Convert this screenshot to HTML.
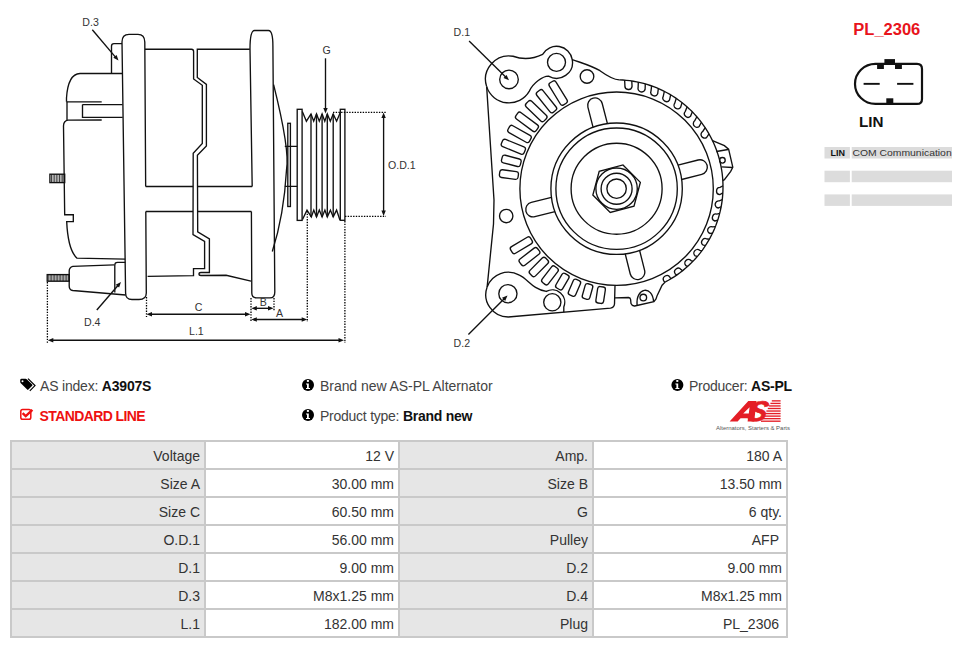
<!DOCTYPE html>
<html><head><meta charset="utf-8">
<style>
*{margin:0;padding:0;box-sizing:border-box}
html,body{width:976px;height:648px;overflow:hidden;background:#fff;font-family:"Liberation Sans",sans-serif;position:relative}
.abs{position:absolute;white-space:nowrap}
#tbl{position:absolute;left:10px;top:440px;width:778px;height:198px;background:#c9c9c9}
.c{position:absolute;width:192px;height:26px;text-align:right;padding-right:4px;font-size:14px;line-height:29px;color:#333}
.g{background:#e6e6e6}
.w{background:#fff}
.info{font-size:14px;color:#444;line-height:18px}
.info b{color:#111}
svg{position:absolute;left:0;top:0}
</style></head><body>

<svg id="draw" width="976" height="360" viewBox="0 0 976 360" fill="none" stroke="#111" stroke-width="1.35">
<g id="left"><path d="M145.66 186.5 L144.8 42 Q144.6 34.4 138 34.4 L129 34.4 Q122 34.4 122 42 L125.6 293 Q125.6 299.5 132 299.5 L139 299.5 Q146.3 299.5 146.3 293 L145.8 211.5"/>
<path d="M111.5 73.5 L111.5 46 Q111.5 43.6 114 43.6 L122 43.6"/>
<path d="M122 73.5 L80 73.5 Q68 74 66.5 98 L66.5 101.8"/>
<path d="M66.5 101.8 L101.7 101.8 M82.5 104.6 L122.5 104.6 M82.5 104.6 L82.5 117.4 L122.7 117.4 "/>
<path d="M67 101.8 V120"/><path d="M101.7 120 L68 120.2 Q63.5 121 63.5 126 L64.7 214.7 L73.3 214.7 L73.3 221.6 L66.7 221.6 Q68 250 77 258.2 L125.2 259.2"/>
<rect x="49.9" y="174.2" width="14.8" height="8.4"/>
<path stroke-width="0.8" d="M51.5 174.2 V182.6 M53.1 174.2 V182.6 M54.7 174.2 V182.6 M56.3 174.2 V182.6 M57.9 174.2 V182.6 M59.5 174.2 V182.6 M61.1 174.2 V182.6 M62.7 174.2 V182.6 M64.3 174.2 V182.6 "/>
<path d="M114.8 292.5 L114.8 265 Q114.8 262.3 117.5 262.3 L125.4 262.3"/>
<path d="M114.3 264.9 L72.8 266.4 Q69.2 267.5 69.2 271 L69.2 286 Q69.2 290 72.8 290.5 L125.6 295"/>
<rect x="47.2" y="274.6" width="22" height="6.6"/>
<path stroke-width="0.8" d="M48.7 274.6 V281.2 M50.2 274.6 V281.2 M51.7 274.6 V281.2 M53.2 274.6 V281.2 M54.7 274.6 V281.2 M56.2 274.6 V281.2 M57.7 274.6 V281.2 M59.2 274.6 V281.2 M60.7 274.6 V281.2 M62.2 274.6 V281.2 M63.7 274.6 V281.2 M65.2 274.6 V281.2 M66.7 274.6 V281.2 M68.2 274.6 V281.2 "/>
<path d="M145 49.2 L191.5 49.2 Q193.6 49.2 193.6 51.5 L193.6 79 L202.3 85.3 L202.3 143.5 L193.2 153.3 L193 234.6 L204.6 241.5 L204.6 268.6 L193.5 268.6 L193.5 275.6 L147.6 276.3"/><path d="M249.8 49.2 L197.3 49.2 L197.3 77.5 L206.4 84.4 L206.4 146 L197.4 155.3 L197.7 231.8 L209.4 238.8 L209.4 272.5 L201 272.5 Q199 272.5 199 274 Q199 275.5 201 275.5 L226.1 275.3 L251 281.1"/><path d="M145.66 186.5 H193.2 M197.4 186.5 H252.2 M145.8 211.5 H193 M197.6 211.5 H251.4"/>



<path d="M252.2 186.5 L250 49 C250 38 250.8 30.5 254.5 30.5 L268.5 30.5 C271.5 30.5 272.9 36 272.9 46 L274.8 292 Q274.8 297.9 270 297.9 L256.5 297.9 Q251.8 297.9 251.8 293 L251.4 211.5"/>
<path d="M273.6 84.6 Q290 150 286.5 170 Q284 215 272.3 251.5"/>
<rect x="287.8" y="123.3" width="2.6" height="83.2"/>
<path d="M284.8 146.3 L297.2 146.3 M284.8 186.3 L297.2 186.3"/>
<rect x="297.2" y="109.3" width="4.9" height="111.1"/>
<rect x="340.3" y="109.3" width="4.6" height="111"/>
<path d="M302.3 111.4 L306.4 121.2 L311 113.9 L313.7 121.2 L316.5 113.9 L319.3 121.2 L322.1 113.9 L324.8 121.2 L327.3 113.9 L330.3 121.2 L333.2 113.9 L336.6 121.2 L340.3 112.5"/><path d="M302.5 219.5 L307 210.1 L311.3 216.9 L313.8 210.1 L316.5 216.9 L319.3 210.1 L322.1 216.9 L324.9 210.1 L327.3 216.9 L330.4 210.1 L333.2 216.9 L336.6 210.1 L339.9 220"/><path d="M311 113.9 V216.9 M316.5 113.9 V216.9 M322.1 113.9 V216.9 M327.3 113.9 V216.9 M333.2 113.9 V216.9"/><path stroke-dasharray="1.4 1.3" stroke-width="1.3" stroke="#000" d="M307.3 211 V322 M344.9 221 V343 M146.5 297 V317 M251 298 V322 M274 298 V311 M47.4 282 V343 M333 112.3 H386 M345 216.3 H386"/><path d="M149.5 314.2 H247.5"/><path fill="#111" stroke="none" d="M146.5 314.2 L152.0 312.0 L152.0 316.4 Z"/><path fill="#111" stroke="none" d="M250.5 314.2 L245.0 316.4 L245.0 312.0 Z"/><path d="M254.3 308.3 H270.5"/><path fill="#111" stroke="none" d="M251.3 308.3 L256.8 306.1 L256.8 310.5 Z"/><path fill="#111" stroke="none" d="M273.5 308.3 L268.0 310.5 L268.0 306.1 Z"/><path d="M254.3 319.5 H304.2"/><path fill="#111" stroke="none" d="M251.3 319.5 L256.8 317.3 L256.8 321.7 Z"/><path fill="#111" stroke="none" d="M307.2 319.5 L301.7 321.7 L301.7 317.3 Z"/><path d="M50.8 340.2 H341.0"/><path fill="#111" stroke="none" d="M47.8 340.2 L53.3 338.0 L53.3 342.4 Z"/><path fill="#111" stroke="none" d="M344.0 340.2 L338.5 342.4 L338.5 338.0 Z"/><path d="M383.6 115.6 V213.0"/><path fill="#111" stroke="none" d="M383.6 112.6 L385.8 118.1 L381.4 118.1 Z"/><path fill="#111" stroke="none" d="M383.6 216.0 L381.4 210.5 L385.8 210.5 Z"/><path d="M92.3 29.8 L115.9 57.6"/><path fill="#111" stroke="none" d="M118.5 60.6 L113.3 57.8 L116.6 55.0 Z"/><path d="M325.5 58.3 L325.5 109.6"/><path fill="#111" stroke="none" d="M325.5 113.6 L323.3 108.1 L327.7 108.1 Z"/><path d="M96.8 310 L118.4 285.0"/><path fill="#111" stroke="none" d="M121.0 282.0 L119.1 287.6 L115.7 284.7 Z"/><g fill="#333" stroke="none" font-family="Liberation Sans" font-size="10.6"><text x="82.3" y="26.2">D.3</text><text x="322.5" y="54">G</text><text x="388" y="168.5">O.D.1</text><text x="194.8" y="310.7">C</text><text x="259.7" y="305.8">B</text><text x="275.9" y="317">A</text><text x="189" y="335">L.1</text><text x="84" y="326">D.4</text><text x="453.6" y="35.9">D.1</text><text x="453.6" y="346.8">D.2</text></g></g>
<g id="right"><circle cx="616.6" cy="188.7" r="9.7"/>
<circle cx="616.6" cy="188.7" r="15.5"/>
<circle cx="616.6" cy="188.7" r="20.7"/>
<circle cx="616.6" cy="188.7" r="45.5"/>
<circle cx="616.6" cy="188.7" r="60.7"/>
<circle cx="616.6" cy="188.7" r="65.7"/>
<circle cx="616.6" cy="188.7" r="96.7"/>
<path d="M622.97 164.94 L640.36 182.33 L633.99 206.09 L610.23 212.46 L592.84 195.07 L599.21 171.31 Z"/>
<path d="M607.42 123.64 L602.21 103.49 A7.4 7.4 0 0 0 587.88 107.20 L593.09 127.35"/>
<path d="M681.66 179.52 L701.81 174.31 A7.4 7.4 0 0 0 698.10 159.98 L677.95 165.19"/>
<path d="M625.21 253.83 L630.25 274.03 A7.4 7.4 0 0 0 644.61 270.45 L639.57 250.25"/>
<path d="M551.47 197.31 L531.27 202.35 A7.4 7.4 0 0 0 534.85 216.71 L555.05 211.67"/>
<path d="M631.79 80.92 L632.06 86.40 A3.6 3.6 0 0 1 624.91 85.57 L624.63 80.10 M645.30 83.85 L645.11 89.24 A3.6 3.6 0 0 1 638.12 87.50 L638.32 82.11 M658.33 88.50 L657.68 93.74 A3.6 3.6 0 0 1 650.98 91.12 L651.63 85.87 M670.65 94.78 L669.57 99.82 A3.6 3.6 0 0 1 663.26 96.36 L664.34 91.31 M682.06 102.60 L680.57 107.39 A3.6 3.6 0 0 1 674.76 103.13 L676.25 98.35 M692.37 111.82 L690.51 116.30 A3.6 3.6 0 0 1 685.30 111.34 L687.15 106.86 M701.40 122.30 L699.22 126.43 A3.6 3.6 0 0 1 694.69 120.83 L696.87 116.70 M709.01 133.85 L706.55 137.59 A3.6 3.6 0 0 1 702.78 131.45 L705.23 127.71 M722.89 192.93 L719.89 194.64 A3.6 3.6 0 0 1 720.06 187.45 L723.05 185.73 M721.21 206.75 L718.25 207.99 A3.6 3.6 0 0 1 719.34 200.87 L722.30 199.63 M717.74 220.24 L714.89 221.00 A3.6 3.6 0 0 1 716.90 214.09 L719.75 213.32 M712.56 233.16 L709.87 233.48 A3.6 3.6 0 0 1 712.76 226.88 L715.45 226.57 M705.75 245.30 L703.28 245.19 A3.6 3.6 0 0 1 707.00 239.03 L709.47 239.14 M697.42 256.46 L695.22 255.95 A3.6 3.6 0 0 1 699.71 250.32 L701.90 250.83 M687.71 266.44 L685.84 265.58 A3.6 3.6 0 0 1 691.02 260.58 L692.89 261.44 M676.79 275.08 L675.29 273.91 A3.6 3.6 0 0 1 681.07 269.62 L682.57 270.79 M664.84 282.23 L663.74 280.80 A3.6 3.6 0 0 1 670.03 277.30 L671.13 278.73 "/>
<path d="M619.26 79.85 L622.78 80.02 L626.29 80.31 L629.79 80.70 L633.27 81.22 L636.74 81.85 L640.18 82.59 L643.59 83.44 L646.98 84.41 L650.33 85.49 L653.65 86.67 L656.92 87.97 L660.15 89.37 L663.33 90.88 L666.46 92.49 L669.54 94.20 L672.56 96.01 L675.52 97.93 L678.41 99.93 L681.23 102.04 L683.99 104.23 L686.67 106.51 L689.27 108.88 L691.80 111.34 L694.24 113.87 L696.60 116.49 L698.87 119.18 L701.05 121.94 L703.14 124.78 L705.14 127.68 L707.03 130.64 L708.83 133.67 L710.53 136.75 L712.13 139.89 L713.62 143.08 L715.01 146.31 L716.29 149.59 L717.46 152.91 L718.53 156.27 L719.48 159.66 L720.32 163.08 L721.04 166.53 L721.66 169.99 L722.16 173.48 L722.54 176.98 L722.81 180.49 L722.96 184.01 L723.00 187.53 L722.92 191.05 L722.73 194.56 L722.42 198.07 L721.99 201.57 L721.45 205.05 L720.80 208.51 L720.03 211.94 L719.15 215.35 L718.16 218.73 L717.06 222.08 L715.85 225.38 L714.53 228.65 L713.10 231.87 L711.57 235.04 L709.94 238.16 L708.20 241.22 L706.37 244.22 L704.43 247.17 L702.41 250.04 L700.28 252.85 L698.07 255.59 L695.77 258.26 L693.38 260.84 L690.91 263.35 L688.35 265.77 L685.72 268.11 L683.01 270.36 L680.23 272.53 L677.38 274.59 L674.47 276.57 L671.49 278.44 L668.45 280.22 L665.35 281.90"/>
<rect x="-9.40" y="-3.90" width="18.80" height="7.8" rx="2.4" transform="translate(508.93 174.52) rotate(187.5)"/>
<rect x="-9.70" y="-3.90" width="19.40" height="7.8" rx="2.4" transform="translate(511.31 160.88) rotate(194.8)"/>
<rect x="-12.25" y="-3.90" width="24.50" height="7.8" rx="2.4" transform="translate(513.34 146.77) rotate(202.1)"/>
<rect x="-12.25" y="-3.90" width="24.50" height="7.8" rx="2.4" transform="translate(519.50 133.99) rotate(209.4)"/>
<rect x="-12.60" y="-3.90" width="25.20" height="7.8" rx="2.4" transform="translate(526.96 121.89) rotate(216.7)"/>
<rect x="-12.50" y="-3.90" width="25.00" height="7.8" rx="2.4" transform="translate(536.25 111.11) rotate(224.0)"/>
<rect x="-12.90" y="-3.90" width="25.80" height="7.8" rx="2.4" transform="translate(546.51 101.21) rotate(231.3)"/>
<rect x="-12.90" y="-3.90" width="25.80" height="7.8" rx="2.4" transform="translate(558.19 93.02) rotate(238.6)"/>
<rect x="-11.55" y="-3.90" width="23.10" height="7.8" rx="2.4" transform="translate(521.37 245.24) rotate(149.3)"/>
<rect x="-11.30" y="-3.90" width="22.60" height="7.8" rx="2.4" transform="translate(529.47 256.65) rotate(142.05)"/>
<rect x="-11.10" y="-3.90" width="22.20" height="7.8" rx="2.4" transform="translate(538.88 266.97) rotate(134.8)"/>
<rect x="-10.15" y="-3.90" width="20.30" height="7.8" rx="2.4" transform="translate(549.96 275.40) rotate(127.55000000000001)"/>
<rect x="-8.35" y="-3.90" width="16.70" height="7.8" rx="2.4" transform="translate(562.34 281.56) rotate(120.30000000000001)"/>
<rect x="-8.45" y="-3.90" width="16.90" height="7.8" rx="2.4" transform="translate(574.45 287.76) rotate(113.05000000000001)"/>
<rect x="-7.65" y="-3.90" width="15.30" height="7.8" rx="2.4" transform="translate(587.51 291.51) rotate(105.80000000000001)"/>
<rect x="-8.30" y="-3.90" width="16.60" height="7.8" rx="2.4" transform="translate(600.62 295.01) rotate(98.55000000000001)"/>
<circle cx="587" cy="76.5" r="6.8"/>
<circle cx="506.2" cy="216" r="6.7"/>
<circle cx="509" cy="79.4" r="9.3"/>
<circle cx="507.9" cy="293.7" r="9.1"/>
<circle cx="556.5" cy="62.3" r="9"/>
<circle cx="552.3" cy="302.3" r="8.6"/>
<circle cx="722.4" cy="160.3" r="2.8"/>
<circle cx="643.3" cy="297.5" r="3.3"/>
<path d="M486.65 86.66 A23.5 23.5 0 0 1 513.08 56.26 Q528 61.5 542.64 54.30 A16 16 0 0 1 572.26 59.52 C580 62.5 590 65 600 70.7 C606 75 612 79.5 619.26 79.85"/>
<path d="M486.65 86.66 A23.5 23.5 0 0 0 529.35 91.15 C533 83 543 76 548.50 76.16 A16 16 0 0 0 572.26 59.52"/>
<path d="M486.65 86.66 L494 200 L493.5 224 L487.15 286.94"/>
<path d="M487.15 286.94 A22.4 22.4 0 0 1 519.40 275.20 C528 279 532 289 546.29 291.45 A12.4 12.4 0 0 1 563.80 306.95 L563.8 312.2"/>
<path d="M487.15 286.94 A22.4 22.4 0 0 0 508.20 317.00 L610.5 308.1 Q614.2 307.5 614.5 304 L615 285.39"/>
<path d="M615 297.9 L628.5 297.5 Q630.4 297.8 630.6 299.5 L631 303.6 Q632 306.2 634.7 306 L653.9 301.6 L656 299 L657.2 295.4 L662.1 285.2 L665.35 281.90"/>
<path d="M637.1 305.2 C635.5 287 652.5 285 653.6 301.7"/>
<path d="M712.49 140.62 L724.4 145.7 L728.6 149.2 L732.8 167.2 L730.7 171.4 L724.4 179.7 L722.81 180.55"/>
<path d="M716.5 151.5 L728 149.5 M721.5 166.8 L732.5 167.5"/>
<path d="M469.1 40.9 L506.2 77.5"/><path fill="#111" stroke="none" d="M509.0 80.3 L503.5 78.0 L506.6 74.9 Z"/>
<path d="M468.4 334.4 L504.7 298.3"/><path fill="#111" stroke="none" d="M507.5 295.5 L505.2 300.9 L502.0 297.8 Z"/></g>
</svg>


<svg width="976" height="648" viewBox="0 0 976 648" style="position:absolute;left:0;top:0">
<!-- tags icon -->
<path fill="#000" d="M20.2 380.2 Q20.2 378.8 21.6 378.8 L25.6 378.8 Q26.4 378.8 27 379.4 L32.2 384.6 Q32.8 385.2 32.2 385.8 L28.4 389.6 Q27.8 390.2 27.2 389.6 L20.8 383.2 Q20.2 382.6 20.2 381.8 Z"/>
<circle cx="22.5" cy="381.2" r="1" fill="#fff"/>
<path fill="none" stroke="#000" stroke-width="1.2" d="M28 378.6 L35 385.6 L29.8 390.8"/>
<!-- check square -->
<rect x="20.8" y="409.6" width="10" height="9.6" rx="1.8" fill="none" stroke="#f01010" stroke-width="1.5"/>
<path fill="none" stroke="#f01010" stroke-width="2.4" stroke-linejoin="miter" d="M22.6 413.2 L25.7 416.2 L32.4 409.9"/>
<!-- info icons -->
<g>
<circle cx="308" cy="384.9" r="6" fill="#000"/><rect x="306.9" y="380" width="2" height="1.9" fill="#fff"/><path fill="#fff" d="M306 383.4 H308.8 V388 H310 V389 H306 V388 H307 V384.4 H306 Z"/>
</g>
<g transform="translate(0 30)">
<circle cx="308" cy="384.9" r="6" fill="#000"/><rect x="306.9" y="380" width="2" height="1.9" fill="#fff"/><path fill="#fff" d="M306 383.4 H308.8 V388 H310 V389 H306 V388 H307 V384.4 H306 Z"/>
</g>
<g transform="translate(369.4 0)">
<circle cx="308" cy="384.9" r="6" fill="#000"/><rect x="306.9" y="380" width="2" height="1.9" fill="#fff"/><path fill="#fff" d="M306 383.4 H308.8 V388 H310 V389 H306 V388 H307 V384.4 H306 Z"/>
</g>
<!-- AS logo -->
<g fill="#e41e26">
<path fill-rule="evenodd" d="M729.6 421.4 L748.3 401.1 L756.5 401 L754.2 421.4 L747.6 421.4 L748 418.2 L740.6 418.2 L737.6 421.4 Z M743.2 413.6 L749.6 407.2 L748.8 413.6 Z"/>
<text x="0" y="0" transform="translate(746.5 421.3) skewX(-14)" font-family="Liberation Sans" font-weight="bold" font-style="italic" font-size="28.5" stroke="#e41e26" stroke-width="0.6">S</text>
<rect x="771.8" y="400.20" width="8.8" height="1.35"/><rect x="770.4" y="402.74" width="10.2" height="1.35"/><rect x="769.1" y="405.28" width="11.5" height="1.35"/><rect x="767.8" y="407.82" width="12.9" height="1.35"/><rect x="766.4" y="410.36" width="14.2" height="1.35"/><rect x="765.0" y="412.90" width="15.6" height="1.35"/><rect x="763.7" y="415.44" width="16.9" height="1.35"/><rect x="762.3" y="417.98" width="18.3" height="1.35"/><rect x="761.0" y="420.52" width="19.6" height="1.35"/>
</g>
<text x="716" y="430" font-family="Liberation Sans" font-size="6.2" fill="#555" textLength="74" lengthAdjust="spacingAndGlyphs">Alternators, Starters &amp; Parts</text>
<!-- right panel -->
<text x="853.3" y="34.5" font-family="Liberation Sans" font-weight="bold" font-size="16" fill="#e8141c" textLength="67" lengthAdjust="spacingAndGlyphs">PL_2306</text>
<path fill="none" stroke="#111" stroke-width="2.2" d="M875.4 63.9 H917 Q922 63.9 922 68.9 V98.9 Q922 103.9 917 103.9 H875.4 A20.4 20 0 0 1 875.4 63.9 Z"/>
<g fill="#111">
<rect x="884.4" y="59.1" width="10.6" height="4.8"/>
<rect x="877.1" y="64" width="6.8" height="5"/>
<rect x="895" y="64" width="6.9" height="5"/>
<rect x="886.3" y="98.3" width="7" height="5"/>
<rect x="863.6" y="82.9" width="16.1" height="1.9"/>
<rect x="897.1" y="82.9" width="16.3" height="1.9"/>
</g>
<text x="859" y="126.6" font-family="Liberation Sans" font-weight="bold" font-size="15" fill="#111" textLength="24.5" lengthAdjust="spacingAndGlyphs">LIN</text>
<g fill="#dcdcdc">
<rect x="824.5" y="147" width="25.4" height="11.5"/><rect x="851.7" y="147" width="100.3" height="11.5"/>
<rect x="824.5" y="170.7" width="25.4" height="11.5"/><rect x="851.7" y="170.7" width="100.3" height="11.5"/>
<rect x="824.5" y="194.4" width="25.4" height="11.5"/><rect x="851.7" y="194.4" width="100.3" height="11.5"/>
</g>
<text x="830.4" y="156" font-family="Liberation Sans" font-weight="bold" font-size="9" fill="#111">LIN</text>
<text x="852.4" y="156" font-family="Liberation Sans" font-size="9.2" fill="#333" textLength="99.3" lengthAdjust="spacingAndGlyphs">COM Communication</text>
</svg>

<!-- info lines -->
<div class="abs info" style="left:40px;top:377px;letter-spacing:-0.2px">AS index: <b>A3907S</b></div>
<div class="abs info" style="left:39.5px;top:406.5px;color:#ee1111;font-weight:bold;font-size:14px;letter-spacing:-0.6px">STANDARD LINE</div>
<div class="abs info" style="left:320px;top:377px;letter-spacing:-0.05px">Brand new AS-PL Alternator</div>
<div class="abs info" style="left:320px;top:407px;letter-spacing:-0.25px">Product type: <b>Brand new</b></div>
<div class="abs info" style="left:689px;top:377px;letter-spacing:-0.25px">Producer: <b>AS-PL</b></div>

<div id="tbl">
<div class="c g" style="left:2px;top:2px">Voltage</div><div class="c w" style="left:196px;top:2px">12 V</div><div class="c g" style="left:390px;top:2px">Amp.</div><div class="c w" style="left:584px;top:2px">180 A</div>
<div class="c g" style="left:2px;top:30px">Size A</div><div class="c w" style="left:196px;top:30px">30.00 mm</div><div class="c g" style="left:390px;top:30px">Size B</div><div class="c w" style="left:584px;top:30px">13.50 mm</div>
<div class="c g" style="left:2px;top:58px">Size C</div><div class="c w" style="left:196px;top:58px">60.50 mm</div><div class="c g" style="left:390px;top:58px">G</div><div class="c w" style="left:584px;top:58px">6 qty.</div>
<div class="c g" style="left:2px;top:86px">O.D.1</div><div class="c w" style="left:196px;top:86px">56.00 mm</div><div class="c g" style="left:390px;top:86px">Pulley</div><div class="c w" style="left:584px;top:86px">AFP<span style="margin-right:3px"></span></div>
<div class="c g" style="left:2px;top:114px">D.1</div><div class="c w" style="left:196px;top:114px">9.00 mm</div><div class="c g" style="left:390px;top:114px">D.2</div><div class="c w" style="left:584px;top:114px">9.00 mm</div>
<div class="c g" style="left:2px;top:142px">D.3</div><div class="c w" style="left:196px;top:142px">M8x1.25 mm</div><div class="c g" style="left:390px;top:142px">D.4</div><div class="c w" style="left:584px;top:142px">M8x1.25 mm</div>
<div class="c g" style="left:2px;top:170px">L.1</div><div class="c w" style="left:196px;top:170px">182.00 mm</div><div class="c g" style="left:390px;top:170px">Plug</div><div class="c w" style="left:584px;top:170px">PL_2306<span style="margin-right:3px"></span></div>
</div>

</body></html>
